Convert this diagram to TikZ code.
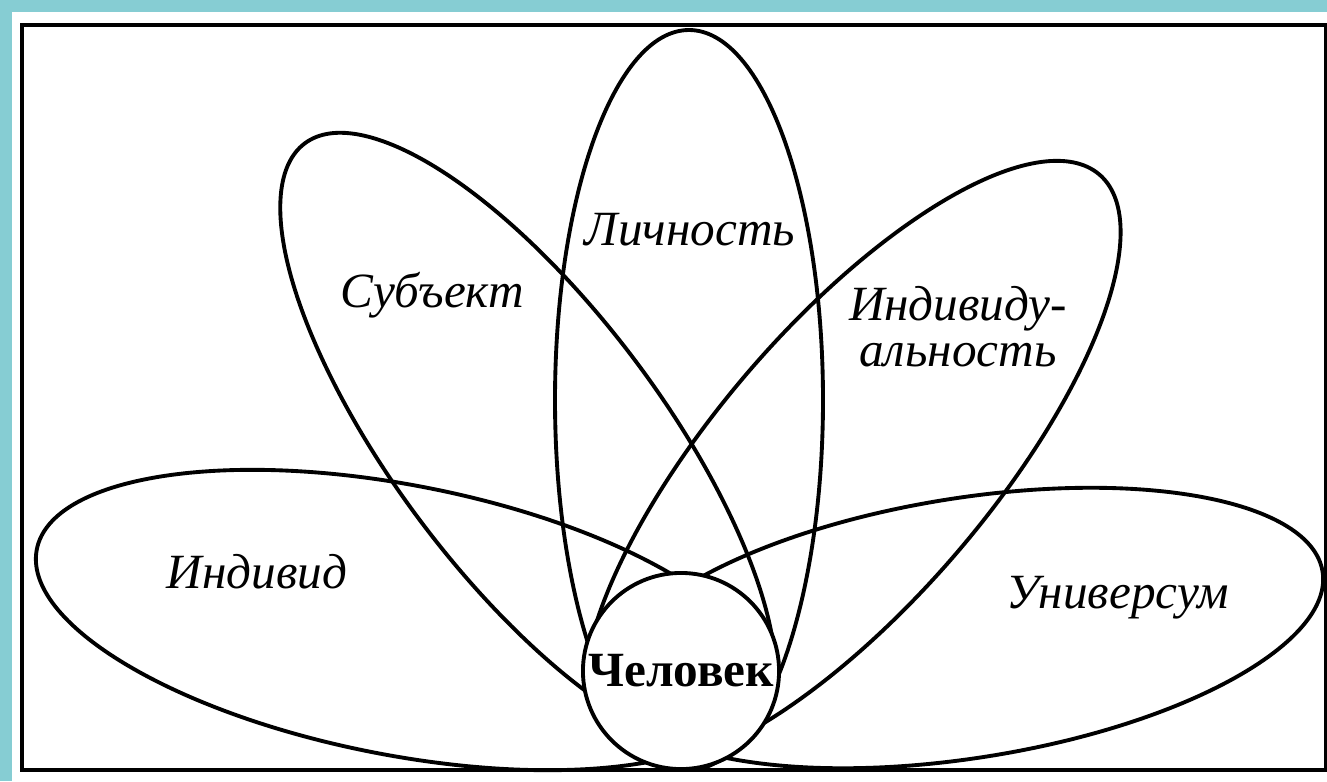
\documentclass[tikz,border=0pt]{standalone}
\usepackage{fontspec}
\setmainfont{Liberation Serif}
\usetikzlibrary{positioning}
\definecolor{bgteal}{RGB}{134,205,211}

\begin{document}
\begin{tikzpicture}[
        x=0.01cm, y=-0.01cm,
        petal/.style = {draw, line width=1.1pt},
        lbl/.style   = {font=\itshape\fontsize{14}{13}\selectfont, align=center, inner sep=0pt},
        core/.style  = {draw, circle, line width=1.1pt, fill=white, minimum size=1.96cm, inner sep=0pt,
                        font=\bfseries\fontsize{14}{16}\selectfont},
    ]
        \useasboundingbox (0,0) rectangle (1327,781);
        \fill[white] (0,0) rectangle (1327,781);
        \fill[bgteal] (0,0) rectangle (1327,12);
        \fill[bgteal] (0,0) rectangle (12,781);
        \draw[line width=0.9pt] (22,25) rectangle (1326,770);
        % petals (lower ends run under the circle)
        \draw[petal] (689,400) ellipse [x radius=134, y radius=370];
        \draw[petal, rotate around={36.9:(528,441)}] (528,441) ++(120:134 and 372)
            arc [start angle=120, end angle=420, x radius=134, y radius=372];
        \draw[petal, rotate around={-40.6:(852,463)}] (852,463) ++(125:138 and 380)
            arc [start angle=125, end angle=420, x radius=138, y radius=380];
        \draw[petal, rotate around={-11:(400,620)}] (400,620) ellipse [x radius=370, y radius=135];
        \draw[petal, rotate around={9:(967,628)}] (967,628) ellipse [x radius=360, y radius=130];
        % centre
        \node[core] (chel) at (681,671) {Человек};
        % labels
        \node[lbl] (lich) at (690,230) {Личность};
        \node[lbl] (subj) at (432,295) {Субъект};
        \node[lbl] (indl) at (958,327) {Индивиду-\\альность};
        \node[lbl] (indv) at (257,572) {Индивид};
        \node[lbl] (univ) at (1118,598) {Универсум};
    \end{tikzpicture}
\end{document}
